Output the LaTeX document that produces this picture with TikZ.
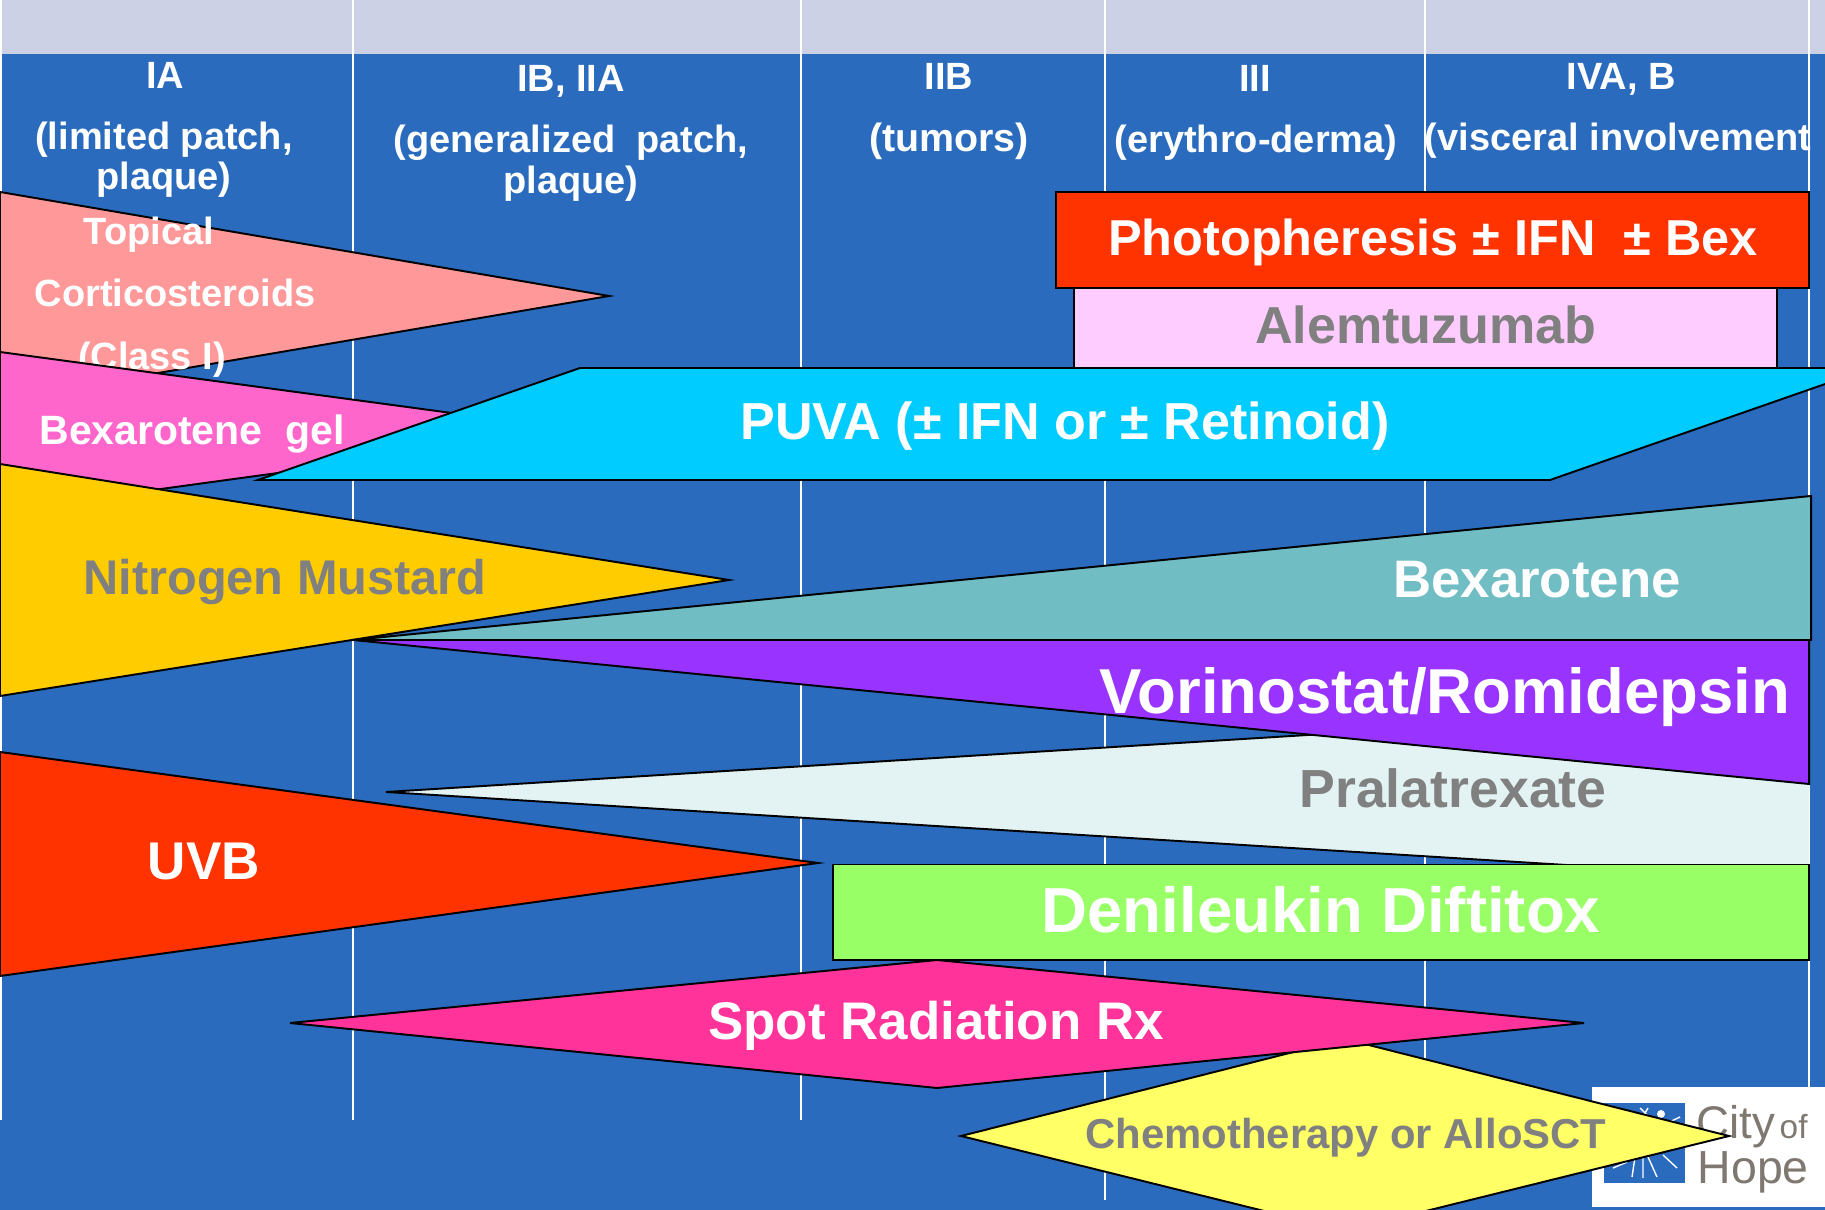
\documentclass[tikz,border=0pt]{standalone}
\usepackage{fontspec}
\setmainfont{Liberation Sans}
\usepackage{tikz}
\definecolor{stageblue}{RGB}{42,107,190}
\definecolor{headgrey}{RGB}{204,209,229}
\definecolor{salmonbox}{RGB}{255,153,153}
\definecolor{magentabox}{RGB}{255,102,204}
\definecolor{cyanbox}{RGB}{0,204,255}
\definecolor{goldbox}{RGB}{255,204,0}
\definecolor{tealbox}{RGB}{112,189,195}
\definecolor{purplebox}{RGB}{153,51,255}
\definecolor{palebox}{RGB}{227,243,243}
\definecolor{redbox}{RGB}{255,51,0}
\definecolor{greenbox}{RGB}{153,255,102}
\definecolor{hotbox}{RGB}{255,51,153}
\definecolor{yellowbox}{RGB}{255,255,102}
\definecolor{lilacbox}{RGB}{255,204,255}
\definecolor{logogrey}{RGB}{127,120,112}
\newcommand{\pts}[1]{\fontsize{#1pt}{#1pt}\selectfont\bfseries}

\begin{document}
\begin{tikzpicture}[
  x=0.01cm, y=-0.01cm,
  bar/.style={draw=black, line width=0.55pt, line join=miter},
  sep/.style={draw=white, line width=0.45pt},
  lbl/.style={anchor=base, inner sep=0pt, text=white},
  head/.style={lbl, font=\pts{10.8}},
  dim/.style={lbl, text=gray}
]
  \useasboundingbox (0,0) rectangle (1825,1210);
  \clip (0,0) rectangle (1825,1210);
  \fill[stageblue] (0,0) rectangle (1825,1210);
  \fill[headgrey] (2,0) rectangle (1825,54);
  % stage separators
  \draw[sep] (1,0) -- (1,1120);
  \draw[sep] (353,0) -- (353,1120);
  \draw[sep] (801,0) -- (801,1120);
  \draw[sep] (1105,0) -- (1105,1200);
  \draw[sep] (1425,0) -- (1425,1090);
  \draw[sep] (1809,0) -- (1809,1090);
  % stage headings
  \node[head] (ia) at (165,89) {IA};
  \node[head] (iad) at (164,150) {(limited patch,};
  \node[head] (iae) at (164,190) {plaque)};
  \node[head] (ib) at (571,92) {IB, IIA};
  \node[head] (ibd) at (571,153) {(generalized\ \ patch,};
  \node[head] (ibe) at (571,194) {plaque)};
  \node[head] (iib) at (949,90) {IIB};
  \node[head, font=\pts{11.2}] (iibd) at (949,152) {(tumors)};
  \node[head] (iii) at (1255,92) {III};
  \node[head] (iiid) at (1256,153) {(erythro-derma)};
  \node[head] (iv) at (1621,90) {IVA, B};
  \node[head] (ivd) at (1618,151) {(visceral involvement};
  % logo corner
  \fill[white] (1592,1087) rectangle (1825,1207);
  \fill[stageblue] (1604,1103) rectangle (1685,1183);
  \fill[white] (1661,1114) circle (4);
  \draw[white, line width=0.4pt] (1632,1177) -- (1635,1157) (1643,1178) -- (1643,1157)
    (1657,1177) -- (1648,1157) (1677,1168) -- (1663,1155) (1613,1168) -- (1627,1162)
    (1640,1108) -- (1650,1118) (1648,1108) -- (1642,1118) (1680,1117) -- (1663,1125);
  \node[anchor=base west, inner sep=0pt, text=logogrey, font=\fontsize{13}{13}\selectfont] (city) at (1696,1138) {City};
  \node[anchor=base west, inner sep=0pt, text=logogrey, font=\fontsize{9.5}{9.5}\selectfont] (of) at (1779,1138) {of};
  \node[anchor=base west, inner sep=0pt, text=logogrey, font=\fontsize{13.2}{13.2}\selectfont] (hope) at (1697,1183) {Hope};
  % therapies
  \draw[bar, fill=salmonbox] (0,192) -- (609,296) -- (0,400) -- cycle;
  \node[lbl, font=\pts{10.8}] (top) at (149,245) {Topical};
  \node[lbl, font=\pts{10.8}] (cort) at (175,307) {Corticosteroids};
  \node[lbl, font=\pts{10.8}] (cls) at (152,370) {(Class I)};
  \draw[bar, fill=magentabox] (0,352) -- (585,431) -- (0,511) -- cycle;
  \node[lbl, font=\pts{11.65}] (gel) at (192,445) {Bexarotene\ \ gel};
  \draw[bar, fill=lilacbox] (1074,288) rectangle (1777,368);
  \node[dim, font=\pts{14.8}] (alem) at (1426,344) {Alemtuzumab};
  \draw[bar, fill=redbox] (1056,192) rectangle (1809,288);
  \node[lbl, font=\pts{14.35}] (photo) at (1433,256) {Photopheresis ± IFN\ \ ± Bex};
  \draw[bar, fill=cyanbox] (580,368) -- (1871,368) -- (1550,480) -- (258,480) -- cycle;
  \node[lbl, font=\pts{14.8}] (puva) at (1065,440) {PUVA (± IFN or ± Retinoid)};
  \draw[bar, fill=goldbox] (0,464) -- (729,580) -- (0,696) -- cycle;
  \node[dim, font=\pts{13.85}] (nit) at (285,595) {Nitrogen Mustard};
  \draw[bar, fill=tealbox] (353,640) -- (1811,496) -- (1811,640) -- cycle;
  \node[lbl, font=\pts{15}] (bex) at (1537,598) {Bexarotene};
  \draw[bar, fill=palebox] (1809,704) -- (386,792) -- (1809,880);
  \draw[bar, fill=purplebox] (353,640) -- (1809,640) -- (1809,784) -- cycle;
  \node[lbl, font=\pts{18.05}] (vor) at (1445,713) {Vorinostat/Romidepsin};
  \node[dim, font=\pts{15.25}] (pra) at (1453,807) {Pralatrexate};
  \draw[bar, fill=redbox] (0,752) -- (818,863) -- (0,976) -- cycle;
  \node[lbl, font=\pts{15.1}] (uvb) at (204,879) {UVB};
  \draw[bar, fill=greenbox] (833,864.5) rectangle (1809,960);
  \node[lbl, font=\pts{18.1}] (den) at (1321,932) {Denileukin Diftitox};
  \draw[bar, fill=yellowbox] (961,1136) -- (1345,1039) -- (1729,1136) -- (1345,1231) -- cycle;
  \node[dim, font=\pts{11.9}] (chem) at (1346,1148) {Chemotherapy or AlloSCT};
  \draw[bar, fill=hotbox] (290,1023) -- (937,960) -- (1584,1023) -- (937,1088) -- cycle;
  \node[lbl, font=\pts{15.05}] (spot) at (936,1039) {Spot Radiation Rx};
\end{tikzpicture}
\end{document}
